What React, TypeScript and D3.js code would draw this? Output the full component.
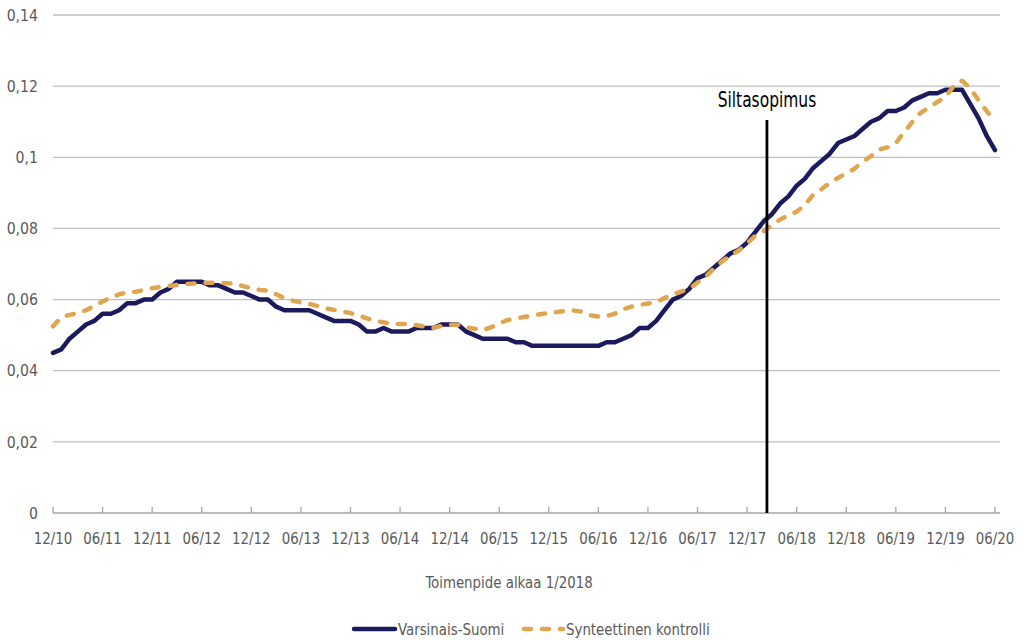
import React from "react";
import * as d3 from "d3";

const startMonth = new Date(2010, 11, 1);
const endMonthExclusive = new Date(2020, 6, 1);
const categories: string[] = d3.timeMonth
  .range(startMonth, endMonthExclusive)
  .map((d) => d3.timeFormat("%m/%y")(d));

const tickLabels = [
  "12/10", "06/11", "12/11", "06/12", "12/12", "06/13", "12/13", "06/14", "12/14", "06/15",
  "12/15", "06/16", "12/16", "06/17", "12/17", "06/18", "12/18", "06/19", "12/19", "06/20",
];

const yTicks = [0, 0.02, 0.04, 0.06, 0.08, 0.1, 0.12, 0.14];

const varsinaisSuomi = [
  0.045, 0.046, 0.049, 0.051, 0.053, 0.054, 0.056, 0.056, 0.057, 0.059,
  0.059, 0.060, 0.060, 0.062, 0.063, 0.065, 0.065, 0.065, 0.065, 0.064,
  0.064, 0.063, 0.062, 0.062, 0.061, 0.060, 0.060, 0.058, 0.057, 0.057,
  0.057, 0.057, 0.056, 0.055, 0.054, 0.054, 0.054, 0.053, 0.051, 0.051,
  0.052, 0.051, 0.051, 0.051, 0.052, 0.052, 0.052, 0.053, 0.053, 0.053,
  0.051, 0.050, 0.049, 0.049, 0.049, 0.049, 0.048, 0.048, 0.047, 0.047,
  0.047, 0.047, 0.047, 0.047, 0.047, 0.047, 0.047, 0.048, 0.048, 0.049,
  0.050, 0.052, 0.052, 0.054, 0.057, 0.060, 0.061, 0.063, 0.066, 0.067,
  0.069, 0.071, 0.073, 0.074, 0.076, 0.079, 0.082, 0.084, 0.087, 0.089,
  0.092, 0.094, 0.097, 0.099, 0.101, 0.104, 0.105, 0.106, 0.108, 0.110,
  0.111, 0.113, 0.113, 0.114, 0.116, 0.117, 0.118, 0.118, 0.119, 0.119,
  0.119, 0.115, 0.111, 0.106, 0.102,
];

const synteettinenKontrolli = [
  0.0525, 0.0550, 0.0557, 0.0562, 0.0570, 0.0582, 0.0595, 0.0605, 0.0615, 0.0620,
  0.0622, 0.0627, 0.0632, 0.0635, 0.0638, 0.0641, 0.0643, 0.0645, 0.0647, 0.0647,
  0.0647, 0.0646, 0.0645, 0.0638, 0.0632, 0.0627, 0.0625, 0.0615, 0.0604, 0.0597,
  0.0592, 0.0588, 0.0582, 0.0575, 0.0571, 0.0567, 0.0562, 0.0555, 0.0547, 0.0540,
  0.0536, 0.0532, 0.0531, 0.0531, 0.0528, 0.0524, 0.0520, 0.0526, 0.0529, 0.0529,
  0.0522, 0.0518, 0.0514, 0.0522, 0.0533, 0.0542, 0.0547, 0.0551, 0.0555, 0.0559,
  0.0562, 0.0565, 0.0568, 0.0569, 0.0566, 0.0556, 0.0552, 0.0554, 0.0560, 0.0573,
  0.0580, 0.0585, 0.0589, 0.0593, 0.0604, 0.0615, 0.0622, 0.0630, 0.0648, 0.0665,
  0.0688, 0.0708, 0.0724, 0.0738, 0.0758, 0.0780, 0.0792, 0.0810, 0.0825, 0.0837,
  0.0847, 0.0866, 0.0895, 0.0910, 0.0928, 0.0942, 0.0955, 0.0968, 0.0988, 0.1003,
  0.1022, 0.1028, 0.1040, 0.1070, 0.1100, 0.1125, 0.1140, 0.1155, 0.1170, 0.1200,
  0.1215, 0.1195, 0.1160, 0.1130, 0.1100,
];

// position of the "Siltasopimus" marker, in months from 12/10
const eventPosition = 86.4;
const eventLabel = "Siltasopimus";
const xAxisTitle = "Toimenpide alkaa 1/2018";
const seriesNames = ["Varsinais-Suomi", "Synteettinen kontrolli"];

const FONT = "'Liberation Sans Narrow', 'DejaVu Sans Condensed', sans-serif";
const NAVY = "#1c1a5c";
const GOLD = "#e0a64f";
const TEXT = "#595959";

type TProps = {
  x: number;
  y: number;
  sx: number;
  size: number;
  anchor?: "start" | "middle" | "end";
  fill?: string;
  dy?: string;
  children: React.ReactNode;
};

function CText({ x, y, sx, size, anchor = "start", fill = TEXT, dy, children }: TProps) {
  return (
    <text
      transform={`translate(${x},${y}) scale(${sx},1)`}
      textAnchor={anchor}
      fontSize={size}
      fill={fill}
      dy={dy}
    >
      {children}
    </text>
  );
}

export default function App() {
  const W = 1023;
  const H = 642;
  const left = 53;
  const right = 995;
  const top = 15;
  const bottom = 513;

  const x = d3.scaleLinear().domain([0, categories.length - 1]).range([left, right]);
  const y = d3.scaleLinear().domain([0, 0.14]).range([bottom, top]);

  const line = d3
    .line<number>()
    .x((_, i) => x(i))
    .y((d) => y(d));

  const fmt = (v: number) => (v === 0 ? "0" : String(+v.toFixed(2)).replace(".", ","));

  return (
    <svg
      width={W}
      height={H}
      style={{ position: "absolute", left: 0, top: 0, background: "#fff" }}
      fontFamily={FONT}
    >
      <rect x={0} y={0} width={W} height={H} fill="#fff" />
      {yTicks.map((t) => (
        <g key={t}>
          {t > 0 && (
            <line x1={left} x2={1000} y1={y(t)} y2={y(t)} stroke="#bfbfbf" strokeWidth={1.3} />
          )}
          <CText x={38} y={y(t)} dy="0.35em" anchor="end" size={16.5} sx={0.95}>
            {fmt(t)}
          </CText>
        </g>
      ))}
      <line x1={left} x2={1000} y1={bottom} y2={bottom} stroke="#a6a6a6" strokeWidth={1.3} />
      {tickLabels.map((lab) => {
        const idx = categories.indexOf(lab);
        const xx = x(idx);
        return (
          <g key={lab}>
            <line x1={xx} x2={xx} y1={bottom} y2={bottom - 6} stroke="#a6a6a6" strokeWidth={1.3} />
            <CText x={xx} y={538} dy="0.35em" anchor="middle" size={16.5} sx={0.9}>
              {lab}
            </CText>
          </g>
        );
      })}

      <path
        d={line(varsinaisSuomi) || ""}
        fill="none"
        stroke={NAVY}
        strokeWidth={4.5}
        strokeLinejoin="round"
        strokeLinecap="round"
      />
      <path
        d={line(synteettinenKontrolli) || ""}
        fill="none"
        stroke={GOLD}
        strokeWidth={4.5}
        strokeLinejoin="round"
        strokeLinecap="round"
        strokeDasharray="7,11"
      />

      <line
        x1={x(eventPosition)}
        x2={x(eventPosition)}
        y1={120}
        y2={bottom}
        stroke="#000"
        strokeWidth={2.8}
      />
      <CText x={x(eventPosition)} y={107} anchor="middle" size={21} sx={0.82} fill="#000">
        {eventLabel}
      </CText>

      <CText x={509} y={588} anchor="middle" size={16.5} sx={0.9}>
        {xAxisTitle}
      </CText>

      <g>
        <line x1={354} x2={395} y1={629} y2={629} stroke={NAVY} strokeWidth={4.5} strokeLinecap="round" />
        <CText x={398} y={635} size={16.5} sx={0.9}>
          {seriesNames[0]}
        </CText>
        <line
          x1={524}
          x2={563}
          y1={629}
          y2={629}
          stroke={GOLD}
          strokeWidth={4.5}
          strokeLinecap="round"
          strokeDasharray="7,11"
        />
        <CText x={566} y={635} size={16.5} sx={0.9}>
          {seriesNames[1]}
        </CText>
      </g>
    </svg>
  );
}
